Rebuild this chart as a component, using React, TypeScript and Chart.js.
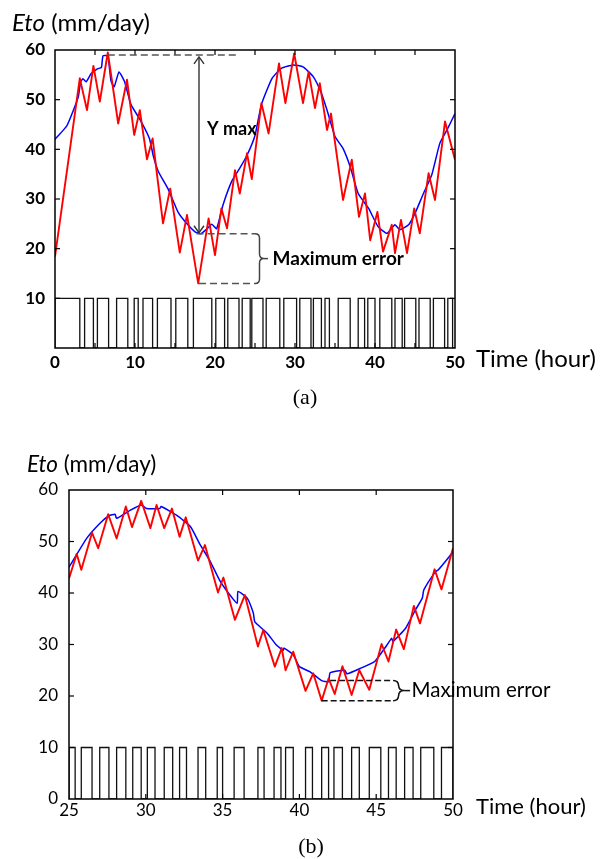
import React, { useEffect, useRef } from "react";
import { Chart, registerables } from "chart.js";

Chart.register(...registerables);

type Pt = [number, number];

// ---------------- Panel (a) data: time (hour), Eto (mm/day) ----------------
const redA: Pt[] = [
  [0, 18.4], [3.1, 54.3], [4.0, 47.9], [4.8, 56.8], [5.6, 49.6], [6.6, 59.5], [7.9, 45.2],
  [9.0, 54.0], [9.9, 42.9], [10.6, 47.9], [11.5, 38.0], [12.2, 42.2], [13.5, 25.1], [14.4, 32.1],
  [15.6, 19.2], [16.5, 26.8], [17.9, 13.0], [19.2, 26.1], [20.0, 18.7], [20.8, 28.1], [21.5, 24.1],
  [22.5, 35.8], [23.1, 31.1], [24.0, 39.2], [24.6, 34.0], [25.8, 49.3], [26.7, 43.2], [28.0, 57.3],
  [28.8, 49.3], [29.9, 59.3], [31.0, 49.3], [31.7, 55.6], [32.5, 48.3], [33.1, 53.3], [34.0, 43.9],
  [34.5, 47.2], [36.0, 29.8], [37.1, 37.9], [38.0, 26.4], [38.75, 31.1], [39.4, 21.7], [40.3, 27.4],
  [41.0, 19.4], [42.1, 24.8], [42.5, 19.1], [43.25, 25.8], [44.0, 19.1], [44.9, 28.1], [45.6, 23.1],
  [46.7, 35.2], [47.5, 29.8], [48.75, 45.6], [50, 37.9],
];
const blueA: Pt[] = [
  [0, 42.0], [1.5, 44.8], [2.9, 50.5], [3.2, 53.6], [3.5, 54.2], [3.9, 53.6], [4.5, 55.2],
  [5.3, 56.2], [5.8, 56.5], [6.0, 58.8], [6.6, 58.8], [7.0, 53.8], [7.4, 52.6], [8.0, 55.6],
  [8.7, 53.6], [9.5, 49.0], [10.7, 45.8], [11.8, 42.2], [12.3, 38.6], [12.9, 35.6], [14.2, 31.8],
  [15.4, 27.3], [16.5, 25.0], [17.5, 23.4], [18.2, 23.0], [19.0, 24.0], [19.6, 24.9], [20.2, 24.0],
  [21.0, 28.8], [22.1, 33.6], [23.1, 36.2], [24.0, 38.8], [25.0, 42.8], [25.8, 49.0], [27.1, 54.2],
  [28.3, 56.3], [29.8, 57.0], [31.0, 56.6], [32.3, 54.6], [33.3, 51.3], [34.0, 47.9], [35.0, 42.6],
  [36.0, 40.2], [36.9, 36.5], [37.9, 31.1], [39.2, 28.1], [40.4, 24.4], [41.5, 23.1], [42.5, 24.8],
  [43.1, 23.8], [44.2, 24.8], [45.0, 27.1], [46.0, 30.9], [47.1, 34.9], [48.1, 41.2], [49.0, 43.9],
  [50, 47.2],
];
// switching signal: [start, end] of each "on" (10) interval
const pulsesA: Pt[] = [
  [0, 3.1], [3.7, 4.8], [5.3, 6.7], [7.7, 9.1], [9.9, 10.4], [11.0, 12.2], [12.8, 14.5],
  [15.1, 16.6], [17.3, 19.6], [20.1, 21.2], [21.6, 23.0], [23.4, 24.4], [24.6, 26.0], [26.4, 28.1],
  [28.6, 30.2], [30.6, 32.0], [32.3, 33.3], [33.75, 34.3], [35.4, 36.9], [37.9, 38.7], [39.1, 40.0],
  [40.6, 42.1], [42.5, 43.4], [43.7, 45.1], [45.5, 46.9], [47.3, 48.7], [49.1, 49.7],
];
const xTicksA = [0, 10, 20, 30, 40, 50];
const yTicks = [0, 10, 20, 30, 40, 50, 60];
// annotation values (a)
const yMaxLevelA = 59;
const yMaxSpanA: Pt = [6.6, 22.6];
const arrowTimeA = 18;
const arrowBottomA = 23;
const errLevelsA: Pt = [23, 13];
const errStartA: Pt = [17.7, 18.0];
const braceTimeA = 25;
const yMaxLabelPosA: Pt = [19.0, 44];
const errLabelPosA: Pt = [27.2, 18];

// ---------------- Panel (b) data ----------------
const redB: Pt[] = [
  [25.0, 42.8], [25.5, 47.6], [25.8, 44.5], [26.5, 51.7], [26.9, 48.7], [27.55, 55.3], [28.1, 50.6],
  [28.7, 56.8], [29.1, 52.8], [29.7, 57.9], [30.3, 52.6], [30.7, 57.1], [31.2, 52.6], [31.7, 56.4],
  [32.2, 50.9], [32.6, 54.7], [33.4, 46.3], [33.85, 49.3], [34.7, 40.1], [35.05, 43.0], [35.8, 34.8],
  [36.45, 39.6], [37.3, 29.6], [37.65, 32.8], [38.4, 25.7], [38.85, 29.3], [39.1, 25.0], [39.6, 28.6],
  [40.4, 21.0], [40.9, 24.4], [41.45, 19.1], [41.9, 23.4], [42.3, 20.4], [42.8, 25.8], [43.4, 20.2],
  [43.9, 25.0], [44.55, 21.2], [45.35, 30.1], [45.8, 26.7], [46.3, 32.9], [46.8, 29.1], [47.45, 37.5],
  [47.85, 34.1], [48.8, 44.6], [49.25, 40.7], [50, 48.7],
];
const blueB: Pt[] = [
  [25.0, 45.0], [26.15, 50.6], [27.0, 53.5], [27.6, 55.0], [28.0, 55.3], [28.1, 54.5], [29.0, 56.1],
  [29.7, 57.1], [30.05, 56.4], [30.9, 56.4], [31.0, 56.8], [32.0, 55.1], [32.9, 52.9], [33.5, 49.6],
  [34.2, 46.1], [34.8, 42.5], [35.4, 39.9], [35.95, 38.0], [36.0, 40.3], [36.6, 39.0], [37.0, 36.1],
  [37.1, 34.4], [37.9, 32.2], [38.5, 29.9], [38.95, 28.9], [39.0, 29.3], [39.6, 28.0], [40.0, 25.7],
  [40.7, 24.7], [41.45, 23.0], [41.9, 22.8], [42.0, 24.5], [42.95, 25.0], [43.1, 24.3], [44.0, 25.4],
  [44.9, 26.7], [45.7, 29.9], [46.0, 31.2], [46.1, 30.6], [46.9, 33.1], [47.55, 36.7], [48.0, 39.0],
  [48.1, 40.6], [48.85, 44.1], [49.05, 44.5], [49.5, 46.1], [50, 48.0],
];
const pulsesB: Pt[] = [
  [25.0, 25.4], [25.8, 26.5], [27.0, 27.6], [28.1, 28.7], [29.15, 29.7], [30.1, 30.6], [31.2, 31.75],
  [32.2, 32.65], [33.4, 33.9], [34.65, 35.0], [35.75, 36.4], [37.3, 37.7], [38.35, 38.8], [39.1, 39.6],
  [40.4, 40.85], [41.45, 41.9], [42.25, 42.8], [43.4, 43.9], [44.55, 45.3], [45.8, 46.3], [46.85, 47.4],
  [47.9, 48.75], [49.25, 50],
];
const xTicksB = [25, 30, 35, 40, 45, 50];
// annotation values (b)
const errLevelsB: Pt = [23, 19.1];
const errStartB: Pt = [42.0, 41.45];
const braceTimeB = 46.1;
const errLabelPosB: Pt = [47.3, 21];

const SIGNAL_HIGH = 10;
const Y_TITLE_ITALIC = "Eto";
const Y_TITLE_REST = " (mm/day)";
const X_TITLE = "Time (hour)";
const ERR_LABEL = "Maximum error";
const YMAX_LABEL = "Y max";

// ---------------- helpers ----------------
const toXY = (pts: Pt[]) => pts.map(([x, y]) => ({ x, y }));

function squareWave(pulses: Pt[], xmin: number, xmax: number, high: number) {
  const out: { x: number; y: number }[] = [{ x: xmin, y: 0 }];
  pulses.forEach(([s, e]) => {
    out.push({ x: s, y: 0 }, { x: s, y: high }, { x: e, y: high }, { x: e, y: 0 });
  });
  out.push({ x: xmax, y: 0 });
  return out;
}

function seg(ctx: CanvasRenderingContext2D, x1: number, y1: number, x2: number, y2: number) {
  ctx.beginPath();
  ctx.moveTo(x1, y1);
  ctx.lineTo(x2, y2);
  ctx.stroke();
}

function drawBrace(ctx: CanvasRenderingContext2D, x: number, yTop: number, yBot: number, w: number, stub: number) {
  const ym = (yTop + yBot) / 2;
  const r = w / 2;
  const xs = x + w / 2;
  ctx.beginPath();
  ctx.moveTo(x, yTop);
  ctx.quadraticCurveTo(xs, yTop, xs, yTop + r);
  ctx.lineTo(xs, ym - r);
  ctx.quadraticCurveTo(xs, ym, x + w, ym);
  ctx.quadraticCurveTo(xs, ym, xs, ym + r);
  ctx.lineTo(xs, yBot - r);
  ctx.quadraticCurveTo(xs, yBot, x, yBot);
  ctx.stroke();
  seg(ctx, x + w, ym, x + w + stub, ym);
}

type Spec = {
  xmin: number;
  xmax: number;
  xTicks: number[];
  minorStep: number;
  showZero: boolean;
  red: Pt[];
  blue: Pt[];
  pulses: Pt[];
  padding: { left: number; top: number; right: number; bottom: number };
  yAxisWidth: number;
  xLabelPad: number;
  yLabelPad: number;
  tickFont: { family: string; size: number; weight: string };
  titleSize: number;
  yTitle: { dx: number; dy: number };
  xTitle: { dx: number; dy: number; size: number };
  caption: string;
  captionDy: number;
  annotate: (ctx: CanvasRenderingContext2D, X: (v: number) => number, Y: (v: number) => number) => void;
};

function buildConfig(s: Spec): any {
  const frame = {
    id: "frameAndTexts",
    afterDraw(chart: any) {
      const { ctx, chartArea: a, scales } = chart;
      const xs = scales.x;
      const ys = scales.y;
      const X = (v: number) => xs.getPixelForValue(v);
      const Y = (v: number) => ys.getPixelForValue(v);
      ctx.save();
      ctx.strokeStyle = "#000";
      ctx.lineWidth = 1.5;
      ctx.strokeRect(a.left, a.top, a.right - a.left, a.bottom - a.top);
      ctx.lineWidth = 1.2;
      const L = 5;
      for (let v = s.xmin + s.minorStep; v < s.xmax - 1e-6; v += s.minorStep) {
        const px = X(v);
        seg(ctx, px, a.top, px, a.top + L);
        seg(ctx, px, a.bottom, px, a.bottom - L);
      }
      yTicks.forEach((v) => {
        if (v <= 0 || v >= 60) return;
        const py = Y(v);
        seg(ctx, a.left, py, a.left + L, py);
        seg(ctx, a.right, py, a.right - L, py);
      });

      s.annotate(ctx, X, Y);

      // axis titles
      ctx.fillStyle = "#000";
      ctx.textBaseline = "middle";
      ctx.textAlign = "left";
      const tx = a.left + s.yTitle.dx;
      const ty = a.top + s.yTitle.dy;
      ctx.font = `italic ${s.titleSize}px Lato`;
      ctx.fillText(Y_TITLE_ITALIC, tx, ty);
      const w1 = ctx.measureText(Y_TITLE_ITALIC).width;
      ctx.font = `${s.titleSize}px Lato`;
      ctx.fillText(Y_TITLE_REST, tx + w1, ty);
      ctx.font = `${s.xTitle.size}px Lato`;
      ctx.fillText(X_TITLE, a.right + s.xTitle.dx, a.bottom + s.xTitle.dy);
      ctx.font = `22px "Liberation Serif"`;
      ctx.textAlign = "center";
      ctx.fillText(s.caption, (a.left + a.right) / 2 + 50, a.bottom + s.captionDy);
      ctx.restore();
    },
  };

  return {
    type: "line",
    data: {
      datasets: [
        {
          data: toXY(s.red),
          borderColor: "#ff0000",
          borderWidth: 1.9,
          pointRadius: 0,
          tension: 0,
          borderJoinStyle: "round",
        },
        {
          data: toXY(s.blue),
          borderColor: "#0000ff",
          borderWidth: 1.5,
          pointRadius: 0,
          tension: 0.15,
        },
        {
          data: squareWave(s.pulses, s.xmin, s.xmax, SIGNAL_HIGH),
          borderColor: "#111",
          borderWidth: 1.3,
          pointRadius: 0,
          tension: 0,
        },
      ],
    },
    options: {
      responsive: false,
      animation: false,
      events: [],
      layout: { padding: s.padding },
      plugins: { legend: { display: false }, tooltip: { enabled: false } },
      scales: {
        x: {
          type: "linear",
          min: s.xmin,
          max: s.xmax,
          afterBuildTicks: (axis: any) => {
            axis.ticks = s.xTicks.map((v) => ({ value: v }));
          },
          afterFit: (axis: any) => {
            axis.height = 30;
          },
          ticks: {
            color: "#000",
            font: s.tickFont,
            padding: s.xLabelPad,
            maxRotation: 0,
            autoSkip: false,
          },
          grid: { display: false, drawTicks: false },
          border: { display: false },
        },
        y: {
          type: "linear",
          min: 0,
          max: 60,
          afterBuildTicks: (axis: any) => {
            axis.ticks = yTicks.map((v) => ({ value: v }));
          },
          afterFit: (axis: any) => {
            axis.width = s.yAxisWidth;
          },
          ticks: {
            color: "#000",
            font: s.tickFont,
            padding: s.yLabelPad,
            autoSkip: false,
            callback: (v: number) => (v === 0 && !s.showZero ? "" : String(v)),
          },
          grid: { display: false, drawTicks: false },
          border: { display: false },
        },
      },
    },
    plugins: [frame],
  };
}

const specA: Spec = {
  xmin: 0,
  xmax: 50,
  xTicks: xTicksA,
  minorStep: 5,
  showZero: false,
  red: redA,
  blue: blueA,
  pulses: pulsesA,
  padding: { left: 0, top: 50, right: 154, bottom: 42 },
  yAxisWidth: 55,
  xLabelPad: 4,
  yLabelPad: 10,
  tickFont: { family: "Lato", size: 17, weight: "bold" },
  titleSize: 24,
  yTitle: { dx: -43, dy: -27 },
  xTitle: { dx: 21, dy: 11, size: 24 },
  caption: "(a)",
  captionDy: 50,
  annotate: (ctx, X, Y) => {
    ctx.save();
    ctx.strokeStyle = "#555";
    ctx.lineWidth = 1.5;
    ctx.setLineDash([7, 4]);
    seg(ctx, X(yMaxSpanA[0]), Y(yMaxLevelA), X(yMaxSpanA[1]), Y(yMaxLevelA));
    seg(ctx, X(errStartA[0]), Y(errLevelsA[0]), X(braceTimeA), Y(errLevelsA[0]));
    seg(ctx, X(errStartA[1]), Y(errLevelsA[1]), X(braceTimeA), Y(errLevelsA[1]));
    ctx.setLineDash([]);
    // double arrow
    ctx.strokeStyle = "#333";
    ctx.lineWidth = 1.4;
    const ax = X(arrowTimeA);
    const yt = Y(yMaxLevelA) + 2;
    const yb = Y(arrowBottomA) - 1;
    seg(ctx, ax, yt, ax, yb);
    ctx.beginPath();
    ctx.moveTo(ax - 5, yt + 7);
    ctx.lineTo(ax, yt);
    ctx.lineTo(ax + 5, yt + 7);
    ctx.moveTo(ax - 5, yb - 7);
    ctx.lineTo(ax, yb);
    ctx.lineTo(ax + 5, yb - 7);
    ctx.stroke();
    // brace
    ctx.strokeStyle = "#444";
    ctx.lineWidth = 1.5;
    drawBrace(ctx, X(braceTimeA), Y(errLevelsA[0]), Y(errLevelsA[1]), 9, 4);
    // labels
    ctx.fillStyle = "#000";
    ctx.textBaseline = "middle";
    ctx.textAlign = "left";
    ctx.font = "bold 18px Lato";
    ctx.fillText(YMAX_LABEL, X(yMaxLabelPosA[0]), Y(yMaxLabelPosA[1]));
    ctx.font = "bold 19px Lato";
    ctx.fillText(ERR_LABEL, X(errLabelPosA[0]), Y(errLabelPosA[1]));
    ctx.restore();
  },
};

const specB: Spec = {
  xmin: 25,
  xmax: 50,
  xTicks: xTicksB,
  minorStep: 5,
  showZero: true,
  red: redB,
  blue: blueB,
  pulses: pulsesB,
  padding: { left: 0, top: 60, right: 156, bottom: 30 },
  yAxisWidth: 69,
  xLabelPad: 1,
  yLabelPad: 11,
  tickFont: { family: "Lato", size: 17, weight: "normal" },
  titleSize: 22.5,
  yTitle: { dx: -42, dy: -25 },
  xTitle: { dx: 23, dy: 8, size: 22 },
  caption: "(b)",
  captionDy: 48,
  annotate: (ctx, X, Y) => {
    ctx.save();
    ctx.strokeStyle = "#111";
    ctx.lineWidth = 1.5;
    ctx.setLineDash([6, 3]);
    seg(ctx, X(errStartB[0]), Y(errLevelsB[0]), X(braceTimeB), Y(errLevelsB[0]));
    seg(ctx, X(errStartB[1]), Y(errLevelsB[1]), X(braceTimeB), Y(errLevelsB[1]));
    ctx.setLineDash([]);
    drawBrace(ctx, X(braceTimeB), Y(errLevelsB[0]), Y(errLevelsB[1]), 11, 6);
    ctx.fillStyle = "#000";
    ctx.textBaseline = "middle";
    ctx.textAlign = "left";
    ctx.font = "20.5px Lato";
    ctx.fillText(ERR_LABEL, X(errLabelPosB[0]), Y(errLabelPosB[1]));
    ctx.restore();
  },
};

function Panel({ spec, top, height }: { spec: Spec; top: number; height: number }) {
  const ref = useRef<HTMLCanvasElement>(null);
  useEffect(() => {
    if (!ref.current) return;
    const chart = new Chart(ref.current, buildConfig(spec));
    return () => chart.destroy();
  }, [spec]);
  return (
    <canvas
      ref={ref}
      width={609}
      height={height}
      style={{ position: "absolute", left: 0, top, width: 609, height }}
    />
  );
}

export default function App() {
  return (
    <div style={{ position: "absolute", left: 0, top: 0, width: 609, height: 859, background: "#fff" }}>
      <Panel spec={specA} top={0} height={420} />
      <Panel spec={specB} top={430} height={429} />
    </div>
  );
}
